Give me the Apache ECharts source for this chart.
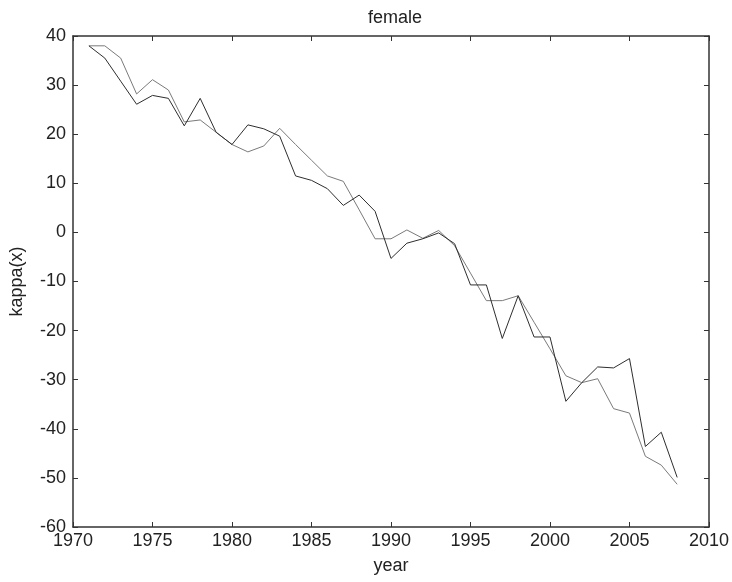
<!DOCTYPE html>
<html>
<head>
<meta charset="utf-8">
<script src="https://cdn.jsdelivr.net/npm/echarts@6/dist/echarts.min.js"></script>
<style>
  html, body { margin: 0; padding: 0; background: #fff; }
  #chart { width: 732px; height: 582px; }
</style>
</head>
<body>
<div id="chart"></div>
<script>
var years = [1971, 1972, 1973, 1974, 1975, 1976, 1977, 1978, 1979, 1980,
             1981, 1982, 1983, 1984, 1985, 1986, 1987, 1988, 1989, 1990,
             1991, 1992, 1993, 1994, 1995, 1996, 1997, 1998, 1999, 2000,
             2001, 2002, 2003, 2004, 2005, 2006, 2007, 2008];

// dark line
var kappaDark = [38.0, 35.5, 30.8, 26.1, 27.9, 27.3, 21.7, 27.3, 20.4, 17.9,
                 21.9, 21.1, 19.6, 11.5, 10.6, 8.9, 5.5, 7.6, 4.3, -5.3,
                 -2.2, -1.3, -0.1, -2.3, -10.7, -10.7, -21.6, -12.9, -21.3, -21.3,
                 -34.4, -30.6, -27.4, -27.6, -25.7, -43.6, -40.7, -49.9];

// grey line
var kappaGrey = [38.0, 38.0, 35.5, 28.2, 31.1, 29.0, 22.5, 22.9, 20.4, 17.9,
                 16.4, 17.6, 21.2, 17.9, 14.7, 11.5, 10.4, 4.6, -1.3, -1.3,
                 0.5, -1.2, 0.4, -2.7, -8.3, -13.9, -13.9, -12.9, -18.3, -23.7,
                 -29.2, -30.6, -29.8, -35.9, -36.8, -45.6, -47.4, -51.3];

function pairs(xs, ys) {
    var out = [];
    for (var i = 0; i < xs.length; i++) out.push([xs[i], ys[i]]);
    return out;
}

var font = 'Liberation Sans, Arial, sans-serif';
var axisLine = { show: true, onZero: false, lineStyle: { color: '#333', width: 1.5 } };
var tick = { show: true, inside: true, length: 5, lineStyle: { color: '#333', width: 1 } };
var txt = { fontFamily: font, fontSize: 18, color: '#222' };

var myChart = echarts.init(document.getElementById('chart'));

var option = {
    animation: false,
    backgroundColor: '#fff',
    title: {
        text: 'female',
        left: 390,
        textAlign: 'center',
        top: 4,
        textStyle: { fontFamily: font, fontSize: 18, fontWeight: 'normal', color: '#222' }
    },
    grid: { left: 70, right: 22, top: 36, bottom: 55 },
    xAxis: [
        {
            type: 'value',
            min: 1970, max: 2010, interval: 5,
            name: 'year',
            nameLocation: 'middle',
            nameGap: 30,
            nameTextStyle: txt,
            axisLine: axisLine,
            axisTick: tick,
            splitLine: { show: false },
            axisLabel: { fontFamily: font, fontSize: 18, color: '#222', margin: 5,
                         formatter: function (v) { return String(v); } }
        },
        {
            type: 'value', position: 'top',
            min: 1970, max: 2010, interval: 5,
            axisLine: axisLine, axisTick: tick,
            splitLine: { show: false }, axisLabel: { show: false }
        }
    ],
    yAxis: [
        {
            type: 'value',
            min: -60, max: 40, interval: 10,
            name: 'kappa(x)',
            nameLocation: 'middle',
            nameGap: 47,
            nameTextStyle: txt,
            axisLine: axisLine,
            axisTick: tick,
            splitLine: { show: false },
            axisLabel: { fontFamily: font, fontSize: 18, color: '#222', margin: 7 }
        },
        {
            type: 'value', position: 'right',
            min: -60, max: 40, interval: 10,
            axisLine: axisLine, axisTick: tick,
            splitLine: { show: false }, axisLabel: { show: false }
        }
    ],
    series: [
        {
            type: 'line',
            data: pairs(years, kappaGrey),
            symbol: 'none',
            lineStyle: { color: '#7a7a7a', width: 1 }
        },
        {
            type: 'line',
            data: pairs(years, kappaDark),
            symbol: 'none',
            lineStyle: { color: '#2e2e2e', width: 1 }
        }
    ]
};

myChart.setOption(option);
</script>
</body>
</html>
